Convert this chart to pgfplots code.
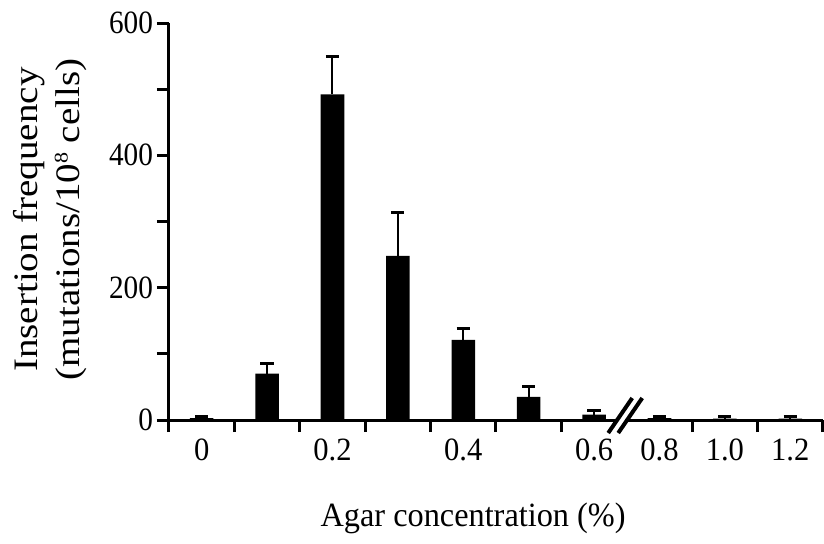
\documentclass[border=0pt]{standalone}
\usepackage{fontspec}
\setmainfont{Liberation Serif}
\usepackage{graphicx}
\usepackage{pgfplots}
\pgfplotsset{compat=1.18}
\newcommand\sx[1]{\scalebox{0.94}[1]{#1}}
\newcommand\sy[1]{\scalebox{0.9}[1]{#1}}
\pgfplotstableread{
x  y    e
0  3    3
1  70   15
2  492  57
3  248  65
4  121  18
5  35   15
6  8    7
7  3    3
8  2    4
9  2    4
}\datatable
\begin{document}
\begin{tikzpicture}
\begin{axis}[
  at={(0,0)}, anchor=south west,
  scale only axis, width=327pt, height=198.5pt,
  xmin=-0.5, xmax=9.5, ymin=0, ymax=600,
  axis x line*=bottom, axis y line*=left,
  axis line style={line width=1.5pt, -},
  tick align=outside,
  tick style={black, line width=1.5pt},
  major tick length=6pt, minor tick length=6pt,
  xtick={0,2,4,6,7,8,9},
  xticklabels={\sx{0},\sx{0.2},\sx{0.4},\sx{0.6},\sx{0.8},\sx{1.0},\sx{1.2}},
  major x tick style={draw=none},
  minor xtick={-0.5,0.5,1.5,2.5,3.5,4.5,5.5,7.5,8.5,9.5},
  ytick={0,200,400,600},
  yticklabels={\sy{0},\sy{200},\sy{400},\sy{600}},
  minor ytick={100,300,500},
  xticklabel style={font=\fontsize{16.25}{19}\selectfont, anchor=north},
  yticklabel style={font=\fontsize{16.25}{19}\selectfont, anchor=east, xshift=1.5pt},
  xlabel={\scalebox{0.95}[1]{Agar concentration (\%)}},
  xlabel style={font=\fontsize{17}{20}\selectfont, at={(axis description cs:0.465,0)}, anchor=base, yshift=-53.3pt},
  ylabel={\scalebox{1}[0.88]{\begin{tabular}{c}Insertion frequency\\(mutations/10\raisebox{0.75ex}{\fontsize{11}{11}\selectfont 8} cells)\end{tabular}}},
  ylabel style={font=\fontsize{19.5}{24}\selectfont, at={(axis description cs:-0.182,0.505)}, anchor=center},
  clip=false,
]
\addplot[ybar, bar width=0.36, fill=black, draw=none, bar shift=0pt,
  error bars/.cd, y dir=plus, y explicit,
  error bar style={line width=1pt, black},
  error mark options={rotate=90, line width=1.5pt, mark size=3.3pt, black}]
  table[x=x, y=y, y error=e] {\datatable};
\coordinate (brk) at (axis cs:6.43,0);
\end{axis}
\fill[white] ([shift={(-7pt,-6.5pt)}]brk) -- ([shift={(-2pt,-6.5pt)}]brk) -- ([shift={(10pt,11pt)}]brk) -- ([shift={(5pt,11pt)}]brk) -- cycle;
\draw[line width=2pt] ([shift={(-7pt,-6.5pt)}]brk) -- ([shift={(5pt,11pt)}]brk);
\draw[line width=2pt] ([shift={(-2pt,-6.5pt)}]brk) -- ([shift={(10pt,11pt)}]brk);
\pgfresetboundingbox
\path (-84.5pt,-61.5pt) rectangle (327.5pt,210pt);
\end{tikzpicture}
\end{document}
